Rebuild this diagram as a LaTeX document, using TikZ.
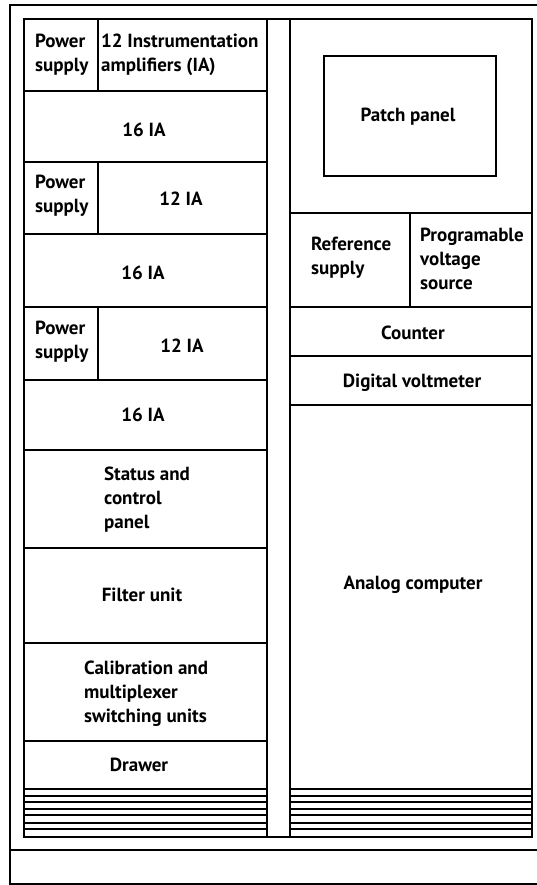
\documentclass[tikz,border=0pt]{standalone}
\usepackage{fontspec}
\setmainfont{PT Sans}
\begin{document}
\begin{tikzpicture}[x=1pt,y=-1pt,line width=2.2pt,
  lbl/.style={font=\fontsize{19}{24}\selectfont\bfseries,inner sep=0pt,align=left},
  lblc/.style={lbl,align=center},
  stripe/.style={line width=1.8pt}]
\useasboundingbox (0,0) rectangle (536,885);
% outer frame, open on the right
\draw (540,5) -- (10,5) -- (10,884) -- (540,884);
\draw (10,850) -- (540,850);
% cabinet body and the gap between the two bays
\draw (24,19) rectangle (532,837);
\draw (267,19) -- (267,837);
\draw (290,19) -- (290,837);
% left bay shelves
\foreach \y in {91,162,234,307,380,450,548,643,741,789}
  \draw (24,\y) -- (267,\y);
\draw (98,19) -- (98,91);
\draw (98,162) -- (98,234);
\draw (98,307) -- (98,380);
% right bay shelves
\foreach \y in {213,307,356,405,789}
  \draw (290,\y) -- (532,\y);
\draw (410,213) -- (410,307);
% patch panel
\draw (324,56) rectangle (496,176);
% louvres at the foot of both bays
\foreach \y in {796,802,809,815,823,829} {
  \draw[stripe] (24,\y) -- (267,\y);
  \draw[stripe] (290,\y) -- (532,\y);
}
% left bay labels
\node[lbl,anchor=west] (ps1) at (34,55) {Power\\supply};
\node[lbl,anchor=west] (ia1) at (100,55) {12 Instrumentation\\amplifiers (IA)};
\node[lblc] (ib1) at (144,130) {16 IA};
\node[lbl,anchor=west] (ps2) at (34,196) {Power\\supply};
\node[lblc] (ia2) at (181,199) {12 IA};
\node[lblc] (ib2) at (143,273) {16 IA};
\node[lbl,anchor=west] (ps3) at (34,342) {Power\\supply};
\node[lblc] (ia3) at (182,346) {12 IA};
\node[lblc] (ib3) at (143,415) {16 IA};
\node[lbl,anchor=west] (stat) at (103,500) {Status and\\control\\panel};
\node[lblc] (filt) at (142,595) {Filter unit};
\node[lbl,anchor=west] (cal) at (83,694) {Calibration and\\multiplexer\\switching units};
\node[lblc] (draw) at (139,765) {Drawer};
% right bay labels
\node[lblc] (patch) at (408,117) {Patch panel};
\node[lbl,anchor=west] (ref) at (310,258) {Reference\\supply};
\node[lbl,anchor=west] (pvs) at (419,259) {Programable\\voltage\\source};
\node[lblc] (cnt) at (413,333) {Counter};
\node[lblc] (dvm) at (412,383) {Digital voltmeter};
\node[lblc] (anc) at (413,585) {Analog computer};
\end{tikzpicture}
\end{document}
